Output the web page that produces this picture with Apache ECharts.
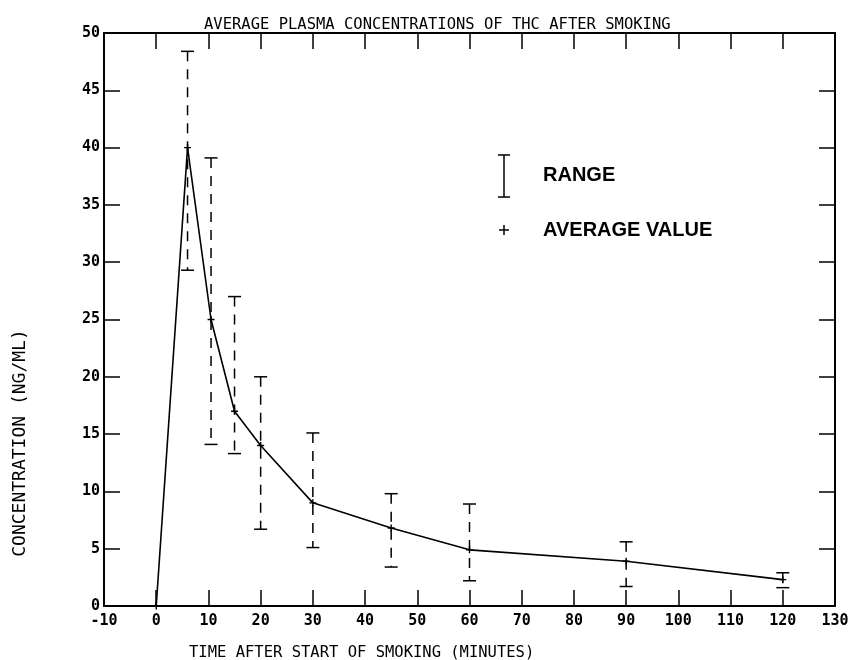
<!DOCTYPE html>
<html>
<head>
<meta charset="utf-8">
<script src="https://cdn.jsdelivr.net/npm/echarts@6/dist/echarts.min.js"></script>
<style>
  html, body { margin: 0; padding: 0; background: #fff; }
  #chart { width: 852px; height: 660px; }
</style>
</head>
<body>
<div id="chart"></div>
<script>
// Sampling times (minutes after start of smoking) and mean THC plasma level (ng/ml)
const times = [0, 6, 10.5, 15, 20, 30, 45, 60, 90, 120];
const averages = [0, 40, 25, 17, 14, 9, 6.8, 4.9, 3.9, 2.3];

// Observed range (min / max) at each sampling time after zero
const rangeTimes = [6, 10.5, 15, 20, 30, 45, 60, 90, 120];
const rangeLow = [29.3, 14.1, 13.3, 6.7, 5.1, 3.4, 2.2, 1.7, 1.6];
const rangeHigh = [48.4, 39.1, 27.0, 20.0, 15.1, 9.8, 8.9, 5.6, 2.9];

// Axis extents
const xMin = -10, xMax = 130, xStep = 10;
const yMin = 0, yMax = 50, yStep = 5;

const plotterFont = '"DejaVu Sans Mono", monospace';
const ink = '#000';

const chart = echarts.init(document.getElementById('chart'), null, { renderer: 'canvas' });

function renderRange(params, api) {
  const x = api.value(0);
  const top = api.coord([x, api.value(2)]);
  const bot = api.coord([x, api.value(1)]);
  const w = 6.5;
  const solid = { stroke: ink, lineWidth: 1.5 };
  return {
    type: 'group',
    children: [
      { type: 'line', shape: { x1: top[0], y1: top[1], x2: bot[0], y2: bot[1] },
        style: { stroke: ink, lineWidth: 1.5, lineDash: [10, 8] } },
      { type: 'line', shape: { x1: top[0] - w, y1: top[1], x2: top[0] + w, y2: top[1] }, style: solid },
      { type: 'line', shape: { x1: bot[0] - w, y1: bot[1], x2: bot[0] + w, y2: bot[1] }, style: solid }
    ]
  };
}

const baseX = {
  type: 'value', min: xMin, max: xMax, interval: xStep,
  axisLine: { show: true, onZero: false, lineStyle: { color: ink, width: 2 } },
  axisTick: { show: true, inside: true, length: 16, lineStyle: { color: ink, width: 1.5 } },
  splitLine: { show: false }
};
const baseY = {
  type: 'value', min: yMin, max: yMax, interval: yStep,
  axisLine: { show: true, onZero: false, lineStyle: { color: ink, width: 2 } },
  axisTick: { show: true, inside: true, length: 16, lineStyle: { color: ink, width: 1.5 } },
  splitLine: { show: false }
};

const option = {
  backgroundColor: '#fff',
  animation: false,
  title: [
    {
      text: 'AVERAGE PLASMA CONCENTRATIONS OF THC AFTER SMOKING',
      left: 199, top: 12,
      textStyle: { fontFamily: plotterFont, fontSize: 15.5, fontWeight: 'normal', color: ink }
    },
    {
      text: 'TIME AFTER START OF SMOKING (MINUTES)',
      left: 184, top: 640,
      textStyle: { fontFamily: plotterFont, fontSize: 15.5, fontWeight: 'normal', color: ink }
    }
  ],
  grid: { left: 104, right: 17, top: 33, bottom: 54, containLabel: false },
  xAxis: [
    Object.assign({}, baseX, {
      position: 'bottom',
      axisLabel: { show: true, margin: 8, fontFamily: plotterFont, fontSize: 15, fontWeight: 'bold', color: ink }
    }),
    Object.assign({}, baseX, { position: 'top', axisLabel: { show: false } })
  ],
  yAxis: [
    Object.assign({}, baseY, {
      position: 'left',
      axisLabel: { show: true, margin: 4, fontFamily: plotterFont, fontSize: 15, fontWeight: 'bold', color: ink }
    }),
    Object.assign({}, baseY, { position: 'right', axisLabel: { show: false } })
  ],
  graphic: [
    // y-axis caption, rotated, sitting low beside the axis
    { type: 'text', x: 20, y: 443, rotation: Math.PI / 2,
      style: { text: 'CONCENTRATION (NG/ML)', font: '18px "DejaVu Sans Mono", monospace',
               fill: ink, align: 'center', verticalAlign: 'middle' } },
    // legend: range bar
    { type: 'line', shape: { x1: 498, y1: 155, x2: 510, y2: 155 }, style: { stroke: ink, lineWidth: 1.5 } },
    { type: 'line', shape: { x1: 504, y1: 155, x2: 504, y2: 197 }, style: { stroke: ink, lineWidth: 1.5 } },
    { type: 'line', shape: { x1: 498, y1: 197, x2: 510, y2: 197 }, style: { stroke: ink, lineWidth: 1.5 } },
    { type: 'text', left: 543, top: 165,
      style: { text: 'RANGE', font: 'bold 20px "Liberation Sans", Arial, sans-serif', fill: ink } },
    // legend: average marker
    { type: 'line', shape: { x1: 499, y1: 230, x2: 509, y2: 230 }, style: { stroke: ink, lineWidth: 1.5 } },
    { type: 'line', shape: { x1: 504, y1: 225, x2: 504, y2: 235 }, style: { stroke: ink, lineWidth: 1.5 } },
    { type: 'text', left: 543, top: 220,
      style: { text: 'AVERAGE VALUE', font: 'bold 20px "Liberation Sans", Arial, sans-serif', fill: ink } }
  ],
  series: [
    {
      name: 'RANGE',
      type: 'custom',
      xAxisIndex: 0, yAxisIndex: 0,
      renderItem: renderRange,
      encode: { x: 0, y: [1, 2] },
      data: rangeTimes.map((t, i) => [t, rangeLow[i], rangeHigh[i]]),
      z: 2
    },
    {
      name: 'AVERAGE VALUE',
      type: 'line',
      xAxisIndex: 0, yAxisIndex: 0,
      data: times.map((t, i) => [t, averages[i]]),
      symbol: 'path://M4,0h2v4h4v2h-4v4h-2v-4h-4v-2h4z',
      symbolSize: 7,
      itemStyle: { color: ink },
      lineStyle: { color: ink, width: 1.6 },
      z: 3
    }
  ]
};

chart.setOption(option);
</script>
</body>
</html>
